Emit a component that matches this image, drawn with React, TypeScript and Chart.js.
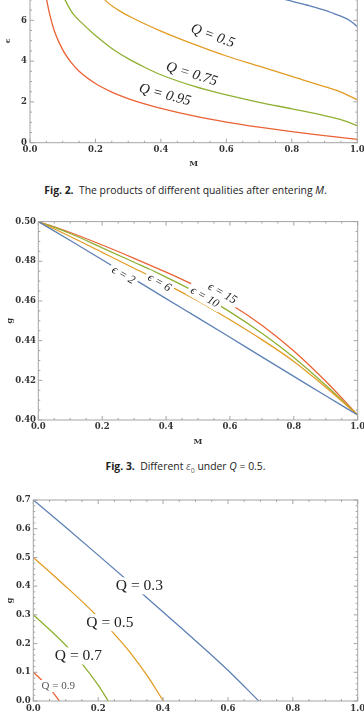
import { useEffect, useRef } from "react";
import { Chart, registerables } from "chart.js";

Chart.register(...registerables);

const BLUE = "#5e81b5";
const ORANGE = "#e19c24";
const GREEN = "#8fb032";
const RED = "#eb6235";
const FRAME = "#a4a4a4";
const INK = "#333333";

// ---- Fig. 2: ε against M for several product qualities Q ----
const topM = [0.7, 0.784, 0.845, 0.9, 0.927, 0.96, 0.978, 1.0];
const topEps = [7.35, 7.0, 6.75, 6.5, 6.34, 6.13, 5.98, 5.69];

const q50M = [0.19, 0.229, 0.27, 0.315, 0.4, 0.5, 0.6, 0.7, 0.8, 0.9, 0.95, 1.0];
const q50Eps = [7.9, 7.0, 6.5, 6.1, 5.47, 4.83, 4.25, 3.75, 3.25, 2.75, 2.48, 2.1];

const q75M = [0.09, 0.107, 0.13, 0.163, 0.2, 0.25, 0.3, 0.35, 0.4, 0.5, 0.6, 0.7, 0.8, 0.9, 0.95, 1.0];
const q75Eps = [7.6, 7.0, 6.35, 5.8, 5.25, 4.62, 4.12, 3.7, 3.33, 2.77, 2.34, 1.98, 1.66, 1.33, 1.13, 0.84];

const q95M = [0.04, 0.051, 0.06, 0.075, 0.1, 0.125, 0.15, 0.2, 0.25, 0.3, 0.35, 0.4, 0.5, 0.6, 0.7, 0.8, 0.9, 1.0];
const q95Eps = [8.0, 7.0, 6.3, 5.45, 4.55, 3.95, 3.5, 2.9, 2.48, 2.16, 1.9, 1.68, 1.31, 1.01, 0.76, 0.54, 0.35, 0.16];

// ---- Fig. 3: g against M for different ε0 at Q = 0.5 ----
const mGrid = [0, 0.1, 0.2, 0.3, 0.4, 0.5, 0.6, 0.7, 0.8, 0.9, 1.0];
const gEps2 = [0.5, 0.4905, 0.4808, 0.471, 0.4612, 0.4515, 0.4417, 0.4318, 0.422, 0.4122, 0.4025];
const gEps6 = [0.5, 0.4925, 0.4845, 0.4765, 0.4685, 0.46, 0.4505, 0.4405, 0.4295, 0.4165, 0.4025];
const gEps10 = [0.5, 0.494, 0.4868, 0.4795, 0.472, 0.4638, 0.4545, 0.4437, 0.4315, 0.4175, 0.4025];
const gEps15 = [0.5, 0.4945, 0.4882, 0.4815, 0.4745, 0.467, 0.4585, 0.4478, 0.4348, 0.4195, 0.4025];

// ---- Fig. 4: g against M for several Q ----
const gq3M = [0, 0.1, 0.2, 0.3, 0.4, 0.5, 0.6, 0.695];
const gq3 = [0.7, 0.605, 0.508, 0.41, 0.31, 0.21, 0.107, 0];
const gq5M = [0, 0.05, 0.1, 0.15, 0.2, 0.25, 0.3, 0.35, 0.401];
const gq5 = [0.5, 0.45, 0.399, 0.347, 0.292, 0.233, 0.167, 0.09, 0];
const gq7M = [0, 0.05, 0.1, 0.15, 0.2, 0.231];
const gq7 = [0.3, 0.249, 0.194, 0.13, 0.055, 0];
const gq9M = [0, 0.02, 0.04, 0.06, 0.08];
const gq9 = [0.1, 0.079, 0.056, 0.031, 0];

const pts = (xs: number[], ys: number[]) => xs.map((x, i) => ({ x, y: ys[i] }));

const curve = (label: string, xs: number[], ys: number[], color: string) => ({
  label,
  data: pts(xs, ys),
  borderColor: color,
  borderWidth: 1.3,
  pointRadius: 0,
  fill: false,
  cubicInterpolationMode: "monotone" as const,
});

type CurveLabel = {
  text: string;
  x: number;
  y: number;
  angle: number;
  font: string;
  color?: string;
  bg?: boolean;
};

type FrameOpts = {
  xMajor: number;
  xMinor: number;
  yMajor: number;
  yMinor: number;
  labels: CurveLabel[];
};

// Draws curve labels, then the boxed frame with inward major/minor ticks
const frameTicks = {
  id: "frameTicks",
  afterDraw(chart: any, _args: any, o: FrameOpts) {
    const { ctx, chartArea, scales } = chart;
    const { left, right, top, bottom } = chartArea;
    const xs = scales.x;
    const ys = scales.y;

    ctx.save();
    ctx.beginPath();
    ctx.rect(left, top, right - left, bottom - top);
    ctx.clip();
    const placed = (o.labels || []).map((lb) => ({
      lb,
      px: xs.getPixelForValue(lb.x),
      py: ys.getPixelForValue(lb.y),
    }));
    for (const { lb, px, py } of placed) {
      if (!lb.bg) continue;
      ctx.save();
      ctx.translate(px, py);
      ctx.rotate((lb.angle * Math.PI) / 180);
      ctx.font = lb.font;
      const w = ctx.measureText(lb.text).width;
      const size = parseFloat(lb.font.match(/(\d+(\.\d+)?)px/)![1]);
      ctx.fillStyle = "#ffffff";
      ctx.fillRect(-w / 2 - 3, -size * 0.55, w + 6, size * 1.1);
      ctx.restore();
    }
    for (const { lb, px, py } of placed) {
      ctx.save();
      ctx.translate(px, py);
      ctx.rotate((lb.angle * Math.PI) / 180);
      ctx.font = lb.font;
      ctx.textAlign = "center";
      ctx.textBaseline = "middle";
      ctx.fillStyle = lb.color || "#222";
      ctx.fillText(lb.text, 0, 0);
      ctx.restore();
    }
    ctx.restore();

    ctx.save();
    ctx.strokeStyle = FRAME;
    ctx.lineWidth = 1;
    ctx.strokeRect(left, top, right - left, bottom - top);
    const isMajor = (v: number, step: number) => Math.abs(v / step - Math.round(v / step)) < 1e-6;
    ctx.beginPath();
    const nx = Math.round((xs.max - xs.min) / o.xMinor);
    for (let i = 0; i <= nx; i++) {
      const v = xs.min + i * o.xMinor;
      const p = xs.getPixelForValue(v);
      const len = isMajor(v, o.xMajor) ? 4 : 2;
      ctx.moveTo(p, bottom);
      ctx.lineTo(p, bottom - len);
      ctx.moveTo(p, top);
      ctx.lineTo(p, top + len);
    }
    const ny = Math.round((ys.max - ys.min) / o.yMinor);
    for (let i = 0; i <= ny; i++) {
      const v = ys.min + i * o.yMinor;
      const p = ys.getPixelForValue(v);
      const len = isMajor(v, o.yMajor) ? 4 : 2;
      ctx.moveTo(left, p);
      ctx.lineTo(left + len, p);
      ctx.moveTo(right, p);
      ctx.lineTo(right - len, p);
    }
    ctx.stroke();
    ctx.restore();
  },
};

const tickFont = { family: "DejaVu Serif", weight: "bold" as const, size: 8.5 };
const titleFont = { family: "DejaVu Serif", weight: "bold" as const, size: 8 };

type Geo = {
  padTop: number;
  padRight: number;
  yWidth: number;
  xHeight: number;
  xTickPad: number;
  yTickPad: number;
  xTitlePad: number;
  yTitlePad: number;
};

function buildConfig(
  datasets: any[],
  xr: [number, number],
  yr: [number, number],
  yStep: number,
  yDigits: number,
  yTitle: string,
  geo: Geo,
  frame: FrameOpts
): any {
  return {
    type: "line",
    data: { datasets },
    plugins: [frameTicks],
    options: {
      animation: false,
      responsive: false,
      devicePixelRatio: 1,
      layout: { padding: { top: geo.padTop, right: geo.padRight, left: 0, bottom: 0 } },
      plugins: {
        legend: { display: false },
        tooltip: { enabled: false },
        frameTicks: frame,
      },
      scales: {
        x: {
          type: "linear",
          min: xr[0],
          max: xr[1],
          grid: { display: false, drawTicks: false },
          border: { display: false },
          ticks: {
            stepSize: 0.2,
            autoSkip: false,
            maxRotation: 0,
            minRotation: 0,
            padding: geo.xTickPad,
            color: INK,
            font: tickFont,
            callback: (v: number) => Number(v).toFixed(1),
          },
          title: { display: true, text: "M", color: INK, font: titleFont, padding: { top: 0, bottom: geo.xTitlePad } },
          afterFit: (s: any) => {
            s.height = geo.xHeight;
          },
        },
        y: {
          type: "linear",
          min: yr[0],
          max: yr[1],
          grid: { display: false, drawTicks: false },
          border: { display: false },
          ticks: {
            stepSize: yStep,
            autoSkip: false,
            padding: geo.yTickPad,
            color: INK,
            font: tickFont,
            callback: (v: number) => Number(v).toFixed(yDigits),
          },
          title: { display: true, text: yTitle, color: INK, font: titleFont, padding: { top: geo.yTitlePad, bottom: 0 } },
          afterFit: (s: any) => {
            s.width = geo.yWidth;
          },
        },
      },
    },
  };
}

function Panel({ top, height, config }: { top: number; height: number; config: () => any }) {
  const ref = useRef<HTMLCanvasElement>(null);
  useEffect(() => {
    const chart = new Chart(ref.current as HTMLCanvasElement, config());
    return () => chart.destroy();
  }, []);
  return (
    <div style={{ position: "absolute", left: 0, top, width: 380, height }}>
      <canvas ref={ref} width={380} height={height} style={{ display: "block", width: 380, height }} />
    </div>
  );
}

const italicSerif = (s: number) => `italic ${s}px "Liberation Serif", "DejaVu Serif", serif`;
const romanSerif = (s: number) => `${s}px "Liberation Serif", "DejaVu Serif", serif`;

const fig2 = () =>
  buildConfig(
    [
      curve("upper", topM, topEps, BLUE),
      curve("Q = 0.5", q50M, q50Eps, ORANGE),
      curve("Q = 0.75", q75M, q75Eps, GREEN),
      curve("Q = 0.95", q95M, q95Eps, RED),
    ],
    [0, 1],
    [0, 10],
    2,
    0,
    "ϵ",
    { padTop: 8.7, padRight: 22.7, yWidth: 30, xHeight: 29.3, xTickPad: 2, yTickPad: 3, xTitlePad: 3, yTitlePad: 3.5 },
    {
      xMajor: 0.2,
      xMinor: 0.05,
      yMajor: 2,
      yMinor: 0.5,
      labels: [
        { text: "Q = 0.5", x: 0.558, y: 5.23, angle: 20, font: italicSerif(14.5) },
        { text: "Q = 0.75", x: 0.494, y: 3.36, angle: 17, font: italicSerif(14.5) },
        { text: "Q = 0.95", x: 0.412, y: 2.34, angle: 15, font: italicSerif(14.5) },
      ],
    }
  );

const fig3 = () =>
  buildConfig(
    [
      curve("ϵ = 2", mGrid, gEps2, BLUE),
      curve("ϵ = 6", mGrid, gEps6, ORANGE),
      curve("ϵ = 10", mGrid, gEps10, GREEN),
      curve("ϵ = 15", mGrid, gEps15, RED),
    ],
    [0, 1],
    [0.4, 0.5],
    0.02,
    2,
    "g",
    { padTop: 16.6, padRight: 22.3, yWidth: 38.3, xHeight: 30, xTickPad: 1.2, yTickPad: 2.3, xTitlePad: 3.5, yTitlePad: 5.2 },
    {
      xMajor: 0.2,
      xMinor: 0.05,
      yMajor: 0.02,
      yMinor: 0.005,
      labels: [
        { text: "ϵ = 2", x: 0.266, y: 0.473, angle: 30, font: italicSerif(12), bg: true },
        { text: "ϵ = 6", x: 0.379, y: 0.4692, angle: 30, font: italicSerif(12), bg: true },
        { text: "ϵ = 10", x: 0.521, y: 0.4619, angle: 30, font: italicSerif(12), bg: true },
        { text: "ϵ = 15", x: 0.576, y: 0.4638, angle: 30, font: italicSerif(12), bg: true },
      ],
    }
  );

const fig4 = () =>
  buildConfig(
    [
      curve("Q = 0.3", gq3M, gq3, BLUE),
      curve("Q = 0.5", gq5M, gq5, ORANGE),
      curve("Q = 0.7", gq7M, gq7, GREEN),
      curve("Q = 0.9", gq9M, gq9, RED),
    ],
    [0, 1],
    [0, 0.7],
    0.1,
    1,
    "g",
    { padTop: 15, padRight: 22.3, yWidth: 33.3, xHeight: 44, xTickPad: 3, yTickPad: 2.6, xTitlePad: 3, yTitlePad: 5.2 },
    {
      xMajor: 0.2,
      xMinor: 0.05,
      yMajor: 0.1,
      yMinor: 0.02,
      labels: [
        { text: "Q = 0.3", x: 0.327, y: 0.401, angle: 0, font: romanSerif(15.5), bg: true },
        { text: "Q = 0.5", x: 0.236, y: 0.273, angle: 0, font: romanSerif(15.5), bg: true },
        { text: "Q = 0.7", x: 0.139, y: 0.157, angle: 0, font: romanSerif(15.5), bg: true },
        { text: "Q = 0.9", x: 0.077, y: 0.052, angle: 0, font: romanSerif(11), bg: true, color: "#555" },
      ],
    }
  );

const captionStyle = (top: number): React.CSSProperties => ({
  position: "absolute",
  left: 0,
  top,
  width: 371,
  textAlign: "center",
  fontFamily: '"Open Sans", "Noto Sans", sans-serif',
  fontSize: 10.4,
  lineHeight: "12px",
  color: "#222",
  whiteSpace: "nowrap",
});

export default function App() {
  return (
    <div
      style={{
        position: "fixed",
        left: 0,
        top: 0,
        width: 364,
        height: 718,
        overflow: "hidden",
        background: "#ffffff",
      }}
    >
      <Panel top={-70} height={242} config={fig2} />
      <div style={captionStyle(184)}>
        <b>Fig. 2.</b>&nbsp; The products of different qualities after entering <i>M</i>.
      </div>
      <Panel top={205} height={245} config={fig3} />
      <div style={captionStyle(460)}>
        <b>Fig. 3.</b>&nbsp; Different <i style={{ color: "#666" }}>ε</i>
        <sub style={{ fontSize: 7, color: "#666" }}>0</sub> under <i>Q</i> = 0.5.
      </div>
      <Panel top={485} height={260} config={fig4} />
    </div>
  );
}
